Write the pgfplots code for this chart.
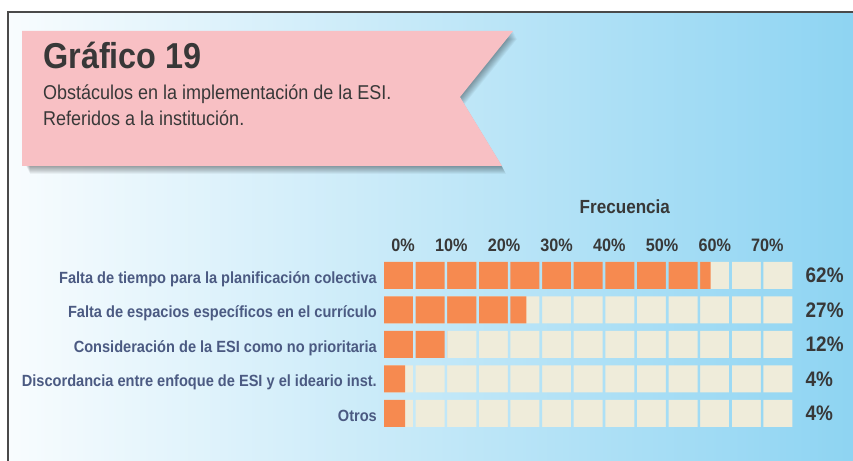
\documentclass[border=0pt]{standalone}
\usepackage{pgfplots}
\usepackage{pgfplotstable}
\pgfplotsset{compat=1.18}
\usepackage{fontspec}
\setmainfont{Liberation Sans}[FakeStretch=0.9]

\definecolor{bgL}{HTML}{F8FCFE}
\definecolor{bgM}{HTML}{D4EEF9}
\definecolor{bgR}{HTML}{8ED4F2}
\definecolor{pinkR}{HTML}{F8C0C4}
\definecolor{orangeB}{HTML}{F68A50}
\definecolor{beige}{HTML}{EFECDA}
\definecolor{catc}{HTML}{4B5A82}
\definecolor{darkt}{HTML}{383838}
\definecolor{frameC}{HTML}{4A4A4A}

\pgfplotstableread{
row value
0 62
1 27
2 12
3 4
4 4
}\datatable

\begin{document}
\begin{tikzpicture}[x=1bp,y=1bp]
\useasboundingbox (0,0) rectangle (853,461);
\fill[white] (0,0) rectangle (853,461);
\shade[left color=bgL, middle color=bgM, right color=bgR] (8.5,0) rectangle (853,447.5);
\draw[line width=2bp, draw=frameC] (7.5,0) -- (7.5,448.5) -- (853,448.5);

% ribbon shadow
\foreach \i in {1,...,10}{
  \begin{scope}[shift={(\i*0.4,-\i*0.8)}]
    \fill[black, opacity=0.04] (26,430) -- (513,430) -- (460,364) -- (502,295) -- (26,295) -- cycle;
  \end{scope}
}
\fill[pinkR] (22,430) -- (513,430) -- (460,364) -- (502,295) -- (22,295) -- cycle;

\node[anchor=base west, inner sep=0pt, text=darkt, font=\bfseries\fontsize{36bp}{40bp}\selectfont] at (43,392) {Gráfico 19};
\node[anchor=base west, inner sep=0pt, text=darkt, font=\fontsize{20bp}{24bp}\selectfont] at (43,361) {Obstáculos en la implementación de la ESI.};
\node[anchor=base west, inner sep=0pt, text=darkt, font=\fontsize{20bp}{24bp}\selectfont] at (43,335) {Referidos a la institución.};

\begin{axis}[
  at={(384bp,30.25bp)}, anchor=south west,
  scale only axis, width=411bp, height=172.5bp,
  xmin=0, xmax=78, ymin=-0.5, ymax=4.5,
  y dir=reverse,
  clip=false,
  axis line style={draw=none},
  tick style={draw=none},
  major tick length=0pt,
  xtick={0,10,...,70},
  xticklabel pos=upper,
  xticklabel={\pgfmathprintnumber[assume math mode=true]{\tick}\%},
  xticklabel style={anchor=base east, xshift=31bp, yshift=6.25bp, inner sep=0pt,
    text=darkt, font=\bfseries\fontsize{18bp}{20bp}\selectfont},
  ytick={0,1,2,3,4},
  yticklabels={Falta de tiempo para la planificación colectiva,
               Falta de espacios específicos en el currículo,
               Consideración de la ESI como no prioritaria,
               Discordancia entre enfoque de ESI y el ideario inst.,
               Otros},
  yticklabel style={anchor=base east, xshift=-7bp, yshift=-7.8bp, inner sep=0pt,
    text=catc, font=\bfseries\fontsize{16.2bp}{18bp}\selectfont},
  xlabel={Frecuencia},
  xlabel style={at={(axis description cs:0.586,1)}, anchor=base, yshift=44.25bp,
    inner sep=0pt, text=darkt, font=\bfseries\fontsize{19bp}{22bp}\selectfont},
]
\addplot[xbar, bar shift=0pt, bar width=27bp, fill=beige, draw=none]
  coordinates {(77.5,0) (77.5,1) (77.5,2) (77.5,3) (77.5,4)};
\addplot[xbar, bar shift=0pt, bar width=27bp, fill=orangeB, draw=none]
  table[x=value, y=row] {\datatable};
\addplot[draw=none, mark=none,
  nodes near coords={\pgfmathprintnumber[assume math mode=true]{\pgfplotspointmeta}\%},
  point meta=explicit,
  every node near coord/.append style={anchor=west, inner sep=0pt, text=darkt,
    font=\bfseries\fontsize{21bp}{24bp}\selectfont}]
  table[x expr=80, y=row, meta=value] {\datatable};
\end{axis}

% gaps between squares
\begin{scope}
  \clip \foreach \k in {1,...,12}{ ({384+31.615*\k-2.6},30.25) rectangle ++(2.6,172.5) };
  \shade[left color=bgL, middle color=bgM, right color=bgR] (8.5,0) rectangle (853,447.5);
\end{scope}
\end{tikzpicture}
\end{document}
